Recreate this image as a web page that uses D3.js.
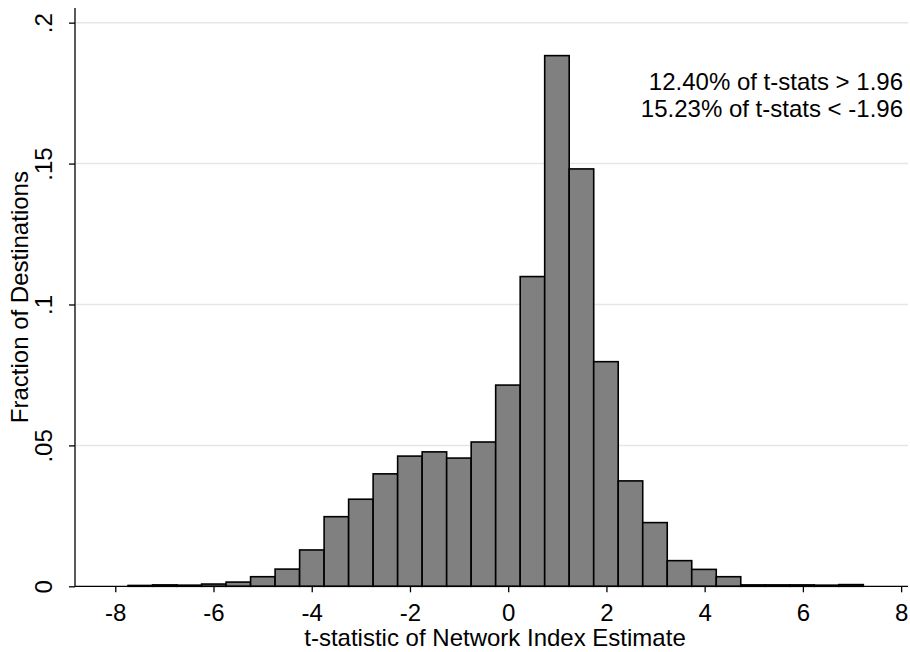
<!DOCTYPE html>
<html>
<head>
<meta charset="utf-8">
<script src="https://cdn.jsdelivr.net/npm/d3@7"></script>
<style>
  body { margin: 0; background: #fff; }
  svg { display: block; font-family: "Liberation Sans", Arial, Helvetica, sans-serif; }
</style>
</head>
<body>
<svg id="chart"></svg>
<script>
// histogram of t-statistics, 30 bins
const binStart = -7.74;
const binWidth = 0.499;
const fractions = [
    0.0003, 0.0005, 0.0004, 0.0008, 0.0015, 0.0034, 0.0061, 0.0129, 0.0247, 0.0309,
    0.0399, 0.0462, 0.0477, 0.0455, 0.0512, 0.0714, 0.1099, 0.1883, 0.1481, 0.0797,
    0.0374, 0.0226, 0.0091, 0.0060, 0.0034, 0.0005, 0.0005, 0.0005, 0.0004, 0.0006
];
const xTicks = [-8, -6, -4, -2, 0, 2, 4, 6, 8];
const yTicks = [0, 0.05, 0.1, 0.15, 0.2];
const yTickLabels = ["0", ".05", ".1", ".15", ".2"];
const notes = ["12.40% of t-stats > 1.96", "15.23% of t-stats < -1.96"];
const xTitle = "t-statistic of Network Index Estimate";
const yTitle = "Fraction of Destinations";

const width = 910, height = 652;
const fontSize = 24;
const svg = d3.select("#chart").attr("width", width).attr("height", height);

// plot region
const plot = {left: 75, right: 908, top: 8, bottom: 586.3};

const x = d3.scaleLinear().domain([-8.82, 8.14]).range([plot.left, plot.right]);
const y = d3.scaleLinear().domain([0, 0.2052]).range([plot.bottom, plot.top]);

// gridlines
svg.append("g")
    .selectAll("line")
    .data(yTicks.filter(d => d > 0))
    .enter().append("line")
    .attr("x1", plot.left + 1)
    .attr("x2", plot.right)
    .attr("y1", d => y(d))
    .attr("y2", d => y(d))
    .attr("stroke", "#e6e6e6")
    .attr("stroke-width", 1.5);

// bars
const bins = fractions.map((f, i) => ({x0: binStart + i * binWidth, x1: binStart + (i + 1) * binWidth, f}));
svg.append("g")
    .selectAll("rect")
    .data(bins)
    .enter().append("rect")
    .attr("x", d => x(d.x0))
    .attr("y", d => y(d.f))
    .attr("width", d => x(d.x1) - x(d.x0))
    .attr("height", d => plot.bottom - y(d.f))
    .attr("fill", "#808080")
    .attr("stroke", "#000")
    .attr("stroke-width", 1.6);

// x axis
const xAxis = svg.append("g")
    .attr("transform", `translate(0,${plot.bottom})`)
    .call(d3.axisBottom(x).tickValues(xTicks).tickSize(6).tickFormat(d => d));
xAxis.select(".domain").attr("d", `M${plot.left},0H${plot.right}`).attr("stroke-width", 1.3);
xAxis.selectAll(".tick line").attr("stroke-width", 1.3);
xAxis.selectAll(".tick text")
    .attr("font-size", fontSize)
    .attr("font-family", null)
    .attr("fill", "#000")
    .attr("y", 35)
    .attr("dy", null)
    .text(d => d < 0 ? "-" + Math.abs(d) : d);

// y axis
const yAxis = svg.append("g")
    .attr("transform", `translate(${plot.left},0)`)
    .call(d3.axisLeft(y).tickValues(yTicks).tickSize(6).tickFormat((d, i) => yTickLabels[i]));
yAxis.select(".domain").attr("d", `M0,${plot.bottom}V${plot.top}`).attr("stroke-width", 1.3);
yAxis.selectAll(".tick line").attr("stroke-width", 1.3);
yAxis.selectAll(".tick text")
    .attr("font-size", fontSize)
    .attr("font-family", null)
    .attr("fill", "#000")
    .attr("x", 0)
    .attr("y", 0)
    .attr("dy", null)
    .attr("text-anchor", "middle")
    .attr("transform", "translate(-32,0) rotate(-90)")
    .attr("dominant-baseline", "central");

// titles
svg.append("text")
    .attr("x", 495)
    .attr("y", 646)
    .attr("text-anchor", "middle")
    .attr("font-size", fontSize)
    .text(xTitle);

svg.append("text")
    .attr("transform", `translate(28,${(plot.top + plot.bottom) / 2}) rotate(-90)`)
    .attr("text-anchor", "middle")
    .attr("font-size", fontSize)
    .text(yTitle);

// annotation
svg.append("g")
    .selectAll("text")
    .data(notes)
    .enter().append("text")
    .attr("x", 903)
    .attr("y", (d, i) => 90 + i * 27)
    .attr("text-anchor", "end")
    .attr("font-size", fontSize)
    .text(d => d);
</script>
</body>
</html>
